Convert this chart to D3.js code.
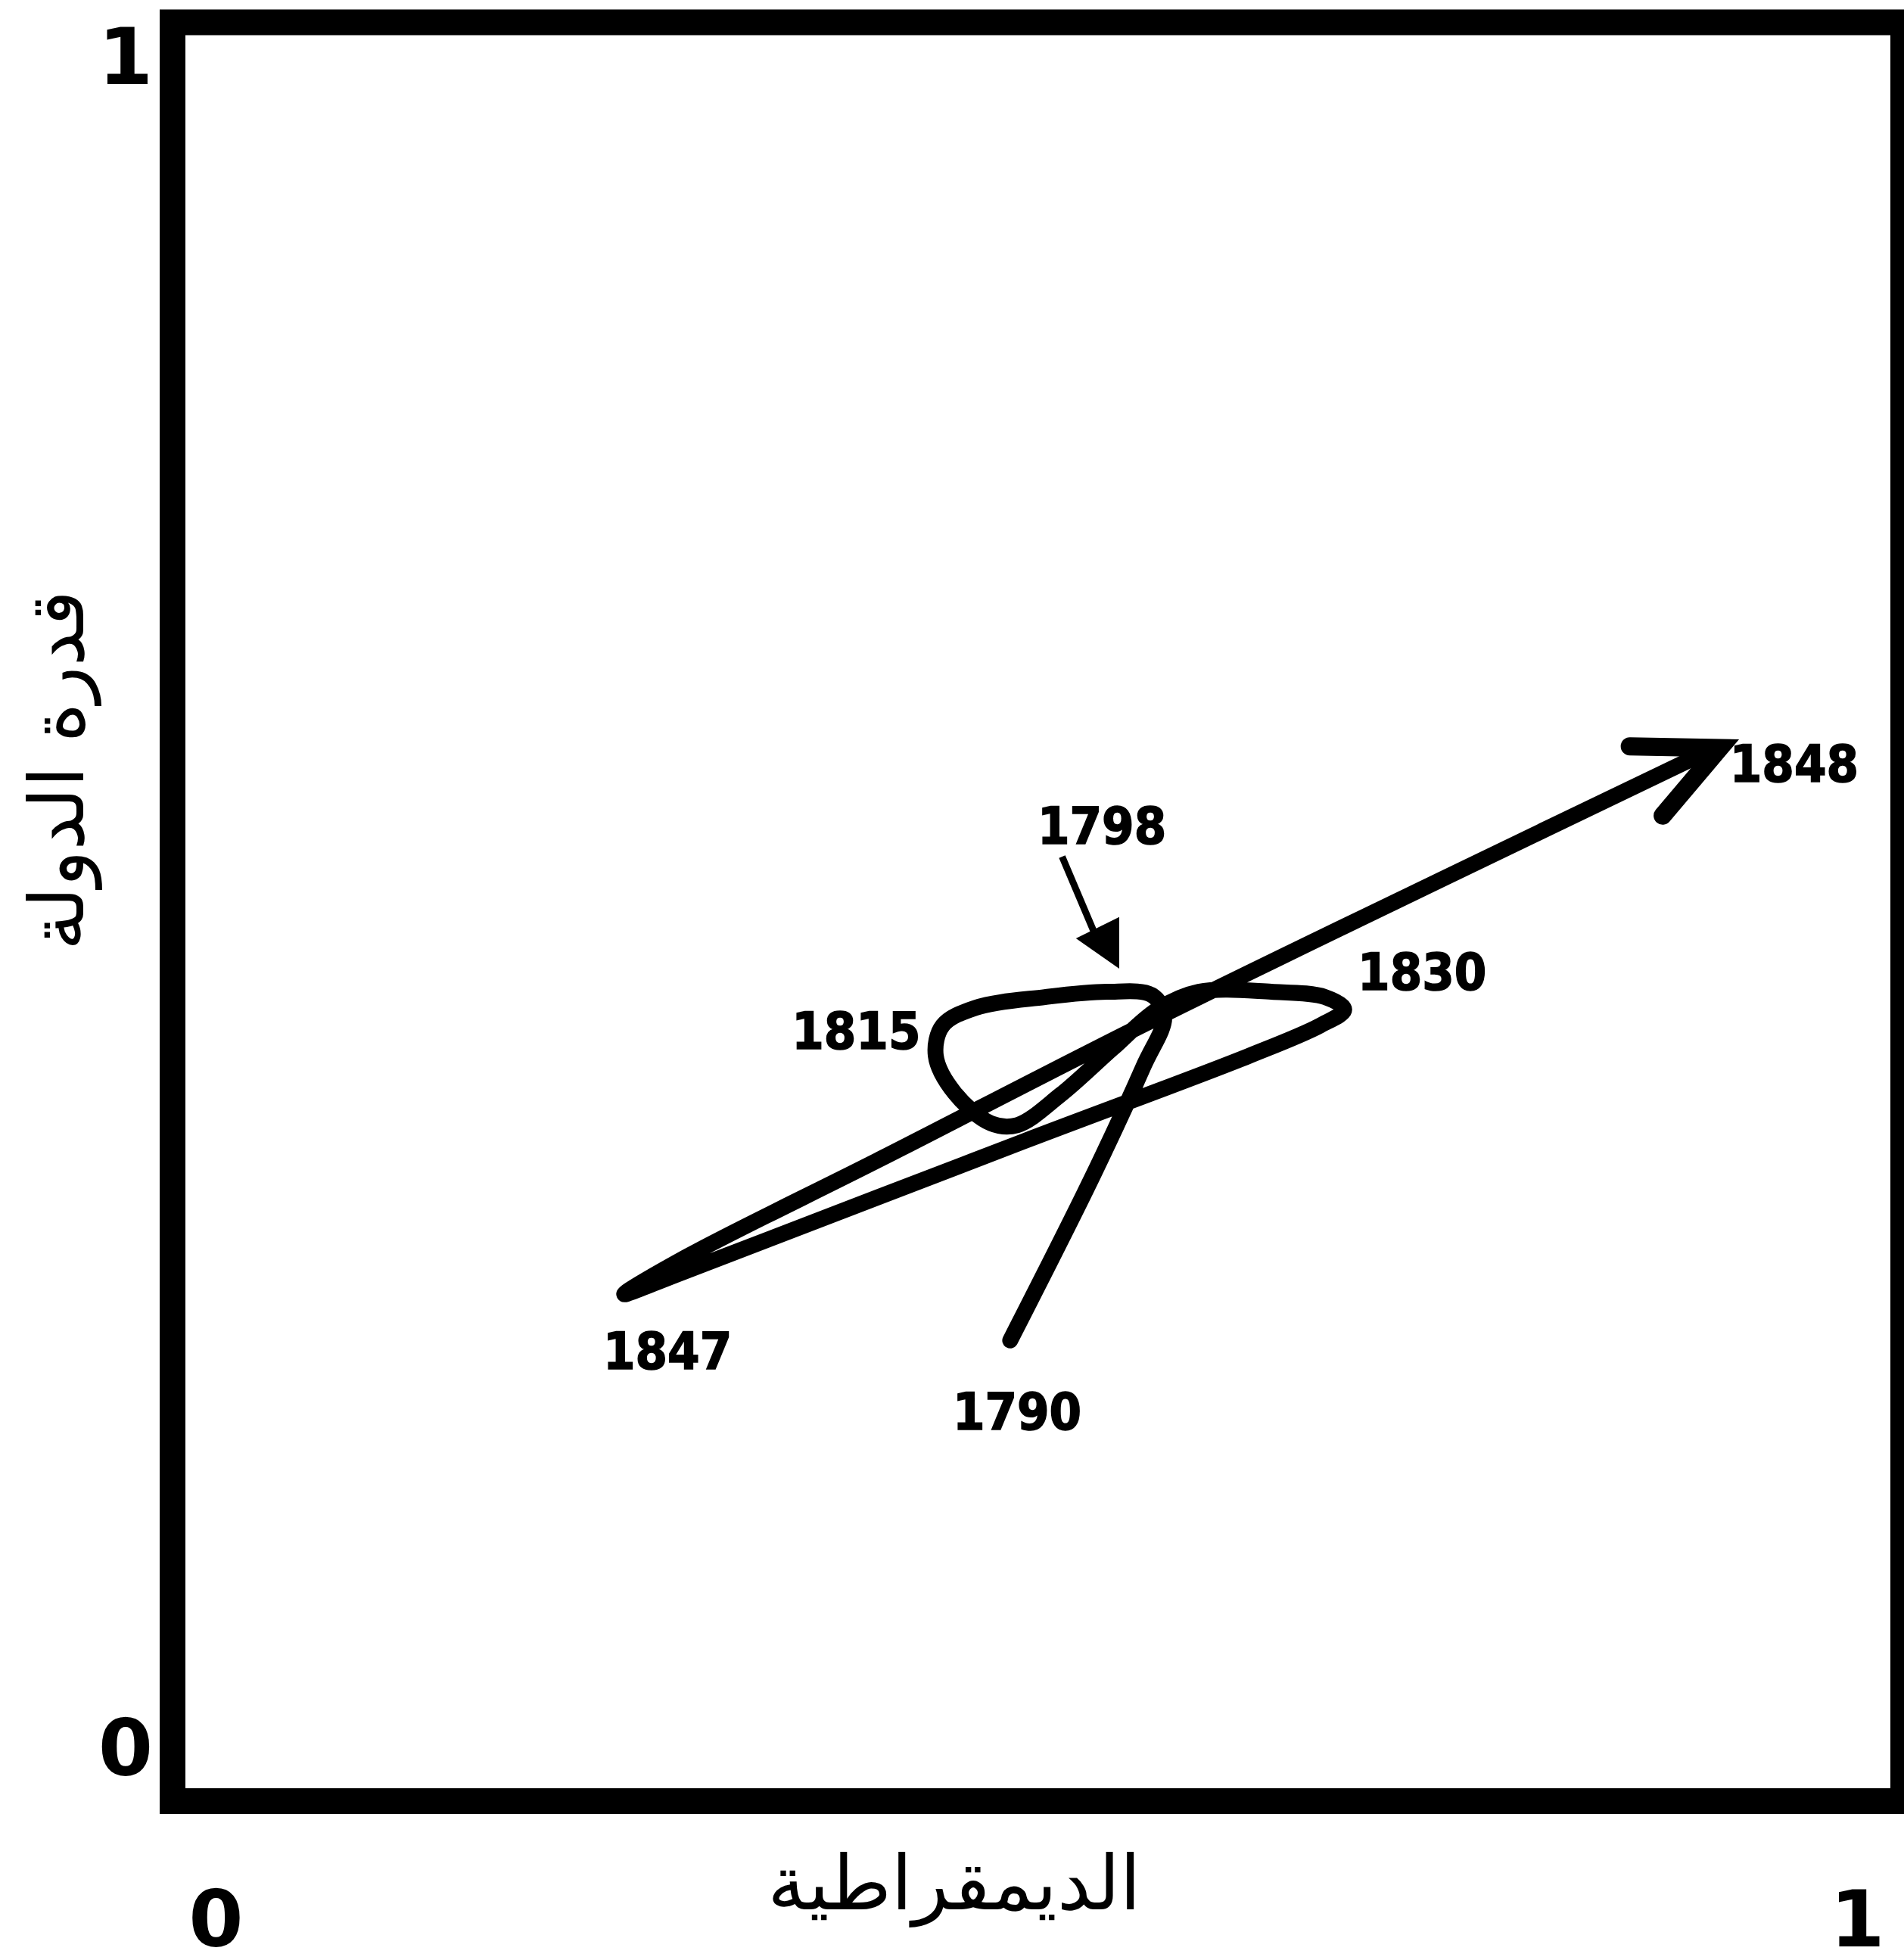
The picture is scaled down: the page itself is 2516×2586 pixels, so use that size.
<!DOCTYPE html>
<html>
<head>
<meta charset="utf-8">
<script src="https://cdn.jsdelivr.net/npm/d3@7"></script>
<style>
  body { margin: 0; background: #fff; }
  svg { display: block; }
</style>
</head>
<body>
<script>
const width = 2516;
const height = 2586;

// axis ticks and titles
const xTicks = [0, 1];
const yTicks = [0, 1];
const xTitle = "الديمقراطية";
const yTitle = "قدرة الدولة";

// trajectory 1790 -> 1848 (democracy, state capacity)
const pathX = [0.484, 0.532, 0.561, 0.573, 0.566, 0.540, 0.504, 0.464, 0.445, 0.441,
  0.452, 0.473, 0.488, 0.513, 0.543, 0.569, 0.593, 0.635, 0.666, 0.677,
  0.663, 0.622, 0.492, 0.294, 0.261, 0.297, 0.409, 0.562, 0.735, 0.891];
const pathY = [0.259, 0.352, 0.413, 0.441, 0.453, 0.455, 0.452, 0.446, 0.436, 0.419,
  0.398, 0.381, 0.380, 0.397, 0.423, 0.445, 0.455, 0.455, 0.452, 0.445,
  0.436, 0.419, 0.371, 0.297, 0.285, 0.306, 0.361, 0.437, 0.519, 0.592];

// year labels
const years = ["1790", "1798", "1815", "1830", "1847", "1848"];
const yearX = [0.488, 0.537, 0.395, 0.722, 0.286, 0.937];
const yearY = [0.209, 0.538, 0.423, 0.456, 0.243, 0.573];

// arrow head at the end of the path (arm, tip, arm)
const headX = [0.842, 0.894, 0.861];
const headY = [0.593, 0.592, 0.554];

// small pointer to 1798
const ptrX = [0.514, 0.534];
const ptrY = [0.531, 0.485];
const ptrHeadX = [0.547, 0.522, 0.547];
const ptrHeadY = [0.497, 0.485, 0.468];

const svg = d3.select("body").append("svg")
  .attr("width", width)
  .attr("height", height);

svg.append("rect").attr("width", width).attr("height", height).attr("fill", "#fff");

// plot box is the frame
const x = d3.scaleLinear().domain([0, 1]).range([228, 2515]);
const y = d3.scaleLinear().domain([0, 1]).range([2380, 29.5]);

svg.append("rect")
  .attr("x", x(0))
  .attr("y", y(1))
  .attr("width", x(1) - x(0))
  .attr("height", y(0) - y(1))
  .attr("fill", "none")
  .attr("stroke", "#000")
  .attr("stroke-width", 34);

// axes: only 0 and 1 shown, tucked near the corners
const tickFont = "'DejaVu Sans', Verdana, sans-serif";

const gx = svg.append("g")
  .attr("transform", "translate(0," + y(0) + ")")
  .call(d3.axisBottom(x).tickValues(xTicks).tickSize(0).tickFormat(d3.format("d")));
gx.select(".domain").remove();
gx.selectAll("text")
  .attr("y", 192)
  .attr("dy", 0)
  .attr("dx", d => d === 0 ? 57 : -61)
  .attr("font-family", tickFont)
  .attr("font-weight", "bold")
  .attr("font-size", 104)
  .attr("fill", "#000");

const gy = svg.append("g")
  .attr("transform", "translate(" + x(0) + ",0)")
  .call(d3.axisLeft(y).tickValues(yTicks).tickSize(0).tickFormat(d3.format("d")));
gy.select(".domain").remove();
gy.selectAll("text")
  .attr("x", -62)
  .attr("dy", d => d === 0 ? -35 : 81)
  .attr("text-anchor", "middle")
  .attr("font-family", tickFont)
  .attr("font-weight", "bold")
  .attr("font-size", 104)
  .attr("fill", "#000");

// axis titles
svg.append("text")
  .attr("x", 1261)
  .attr("y", 2523)
  .attr("text-anchor", "middle")
  .attr("font-family", "'DejaVu Sans', sans-serif")
  .attr("font-size", 100)
  .attr("fill", "#000")
  .text(xTitle);

svg.append("text")
  .attr("transform", "translate(110,1018) rotate(-90)")
  .attr("text-anchor", "middle")
  .attr("font-family", "'DejaVu Sans', sans-serif")
  .attr("font-size", 100)
  .attr("fill", "#000")
  .text(yTitle);

// trajectory
const line = d3.line()
  .x((d, i) => x(pathX[i]))
  .y((d, i) => y(pathY[i]))
  .curve(d3.curveCatmullRom.alpha(0.5));

svg.append("path")
  .attr("d", line(pathX))
  .attr("fill", "none")
  .attr("stroke", "#000")
  .attr("stroke-width", 21)
  .attr("stroke-linecap", "round")
  .attr("stroke-linejoin", "round");

svg.append("path")
  .attr("d", d3.line().x((d, i) => x(headX[i])).y((d, i) => y(headY[i]))(headX))
  .attr("fill", "none")
  .attr("stroke", "#000")
  .attr("stroke-width", 24)
  .attr("stroke-linecap", "round")
  .attr("stroke-linejoin", "miter");

// pointer for 1798
svg.append("line")
  .attr("x1", x(ptrX[0])).attr("y1", y(ptrY[0]))
  .attr("x2", x(ptrX[1])).attr("y2", y(ptrY[1]))
  .attr("stroke", "#000")
  .attr("stroke-width", 9);

svg.append("polygon")
  .attr("points", ptrHeadX.map((v, i) => x(v) + "," + y(ptrHeadY[i])).join(" "))
  .attr("fill", "#000");

// year labels
svg.selectAll(".year")
  .data(years)
  .enter()
  .append("text")
  .attr("class", "year")
  .attr("x", (d, i) => x(yearX[i]))
  .attr("y", (d, i) => y(yearY[i]))
  .attr("text-anchor", "middle")
  .attr("font-family", "'DejaVu Sans Condensed', 'DejaVu Sans', sans-serif")
  .attr("font-stretch", "condensed")
  .attr("font-weight", "bold")
  .attr("font-size", 68)
  .attr("fill", "#000")
  .attr("stroke", "#000")
  .attr("stroke-width", 1.5)
  .text(d => d);
</script>
</body>
</html>
